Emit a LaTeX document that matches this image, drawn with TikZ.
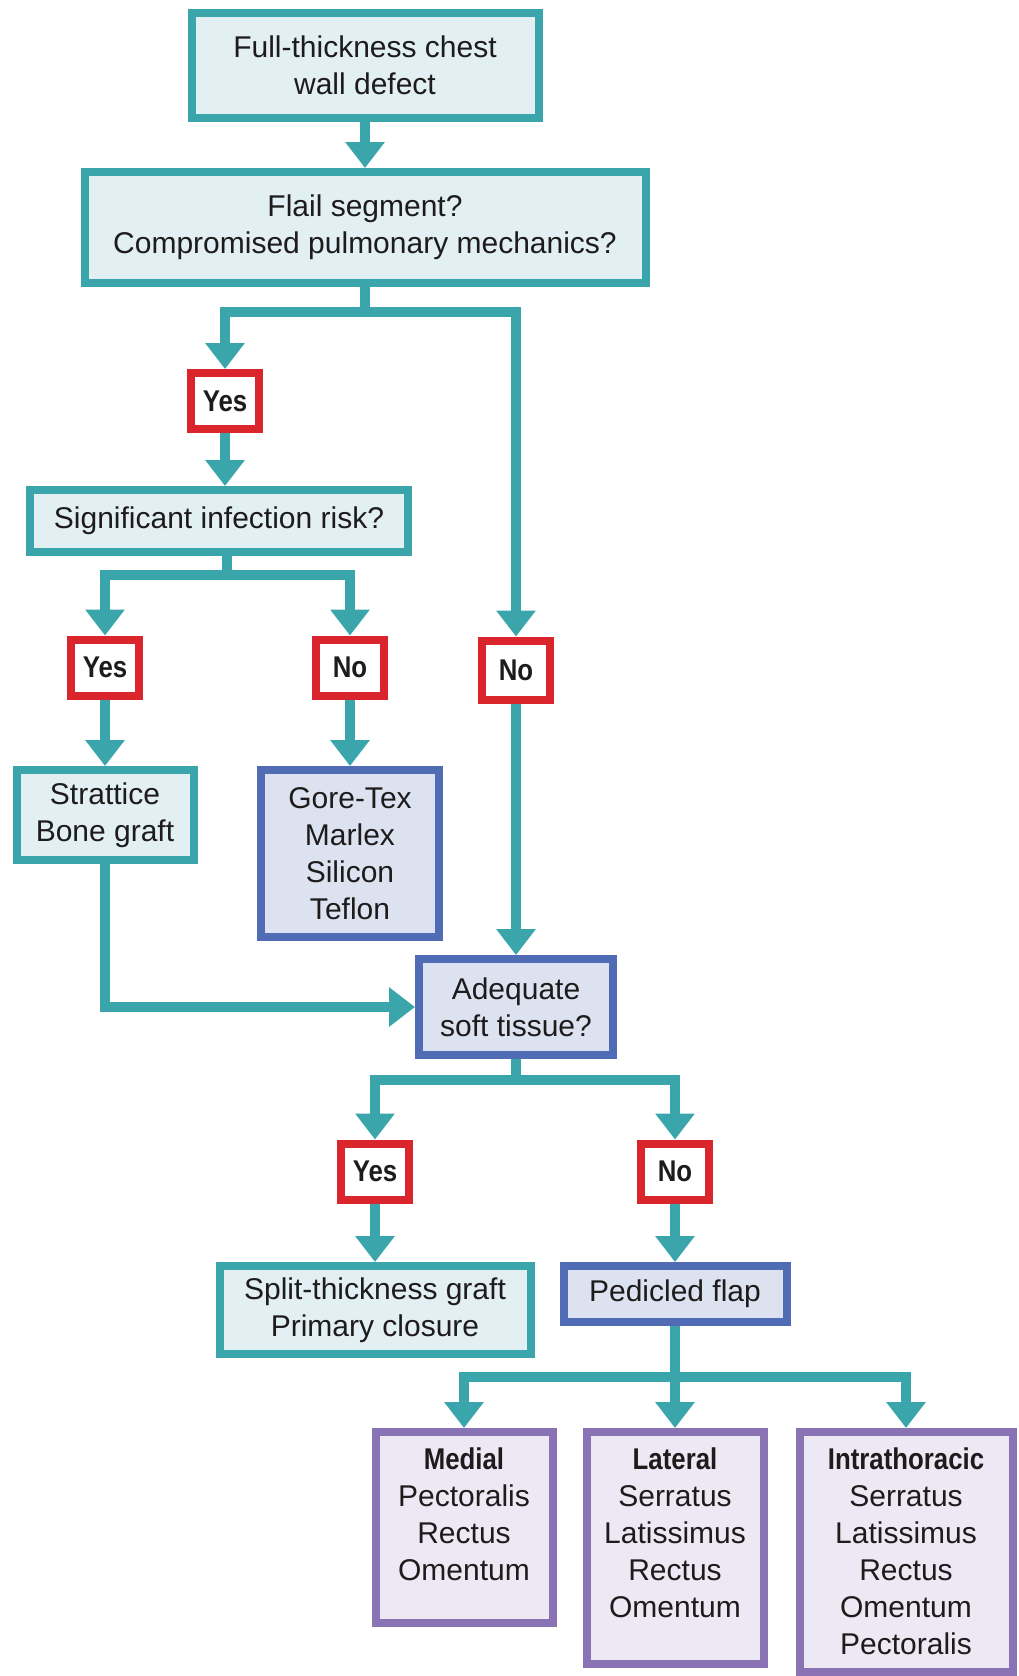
\documentclass[tikz,border=0pt]{standalone}
\usepackage{fontspec}
\setmainfont{Liberation Sans}
\newfontfamily\narrowsans[FakeStretch=0.86]{Liberation Sans}
\usetikzlibrary{arrows.meta,positioning}
\definecolor{tealline}{RGB}{58,166,171}
\definecolor{tealfill}{RGB}{226,239,243}
\definecolor{redline}{RGB}{218,37,44}
\definecolor{blueline}{RGB}{79,108,181}
\definecolor{bluefill}{RGB}{221,226,240}
\definecolor{purpline}{RGB}{137,115,181}
\definecolor{purpfill}{RGB}{236,233,245}
\definecolor{inkgray}{RGB}{30,27,28}

% flap lists are set from the top of their box
\newcommand{\fliplist}[3]{\parbox[c][#1][t]{#2}{\centering\vspace{6pt}#3}}

\begin{document}
\begin{tikzpicture}[x=0.5pt,y=-0.5pt,
	every node/.style={font=\fontsize{15}{18.5}\selectfont,text=inkgray,align=center,inner sep=2pt},
	tbox/.style={draw=tealline,fill=tealfill,line width=4pt},
	bbox/.style={draw=blueline,fill=bluefill,line width=4pt},
	pbox/.style={draw=purpline,fill=purpfill,line width=4pt},
	ans/.style={draw=redline,fill=white,line width=4pt,minimum width=34pt,minimum height=28pt,
		font=\narrowsans\bfseries\fontsize{15}{18.5}\selectfont},
	link/.style={draw=tealline,line width=5pt,line join=miter},
	arr/.style={link,-{Triangle[width=19pt,length=13pt]}}]
	\useasboundingbox[fill=white] (0,0) rectangle (1018,1676);

	\node[tbox,minimum width=173.5pt,minimum height=52.5pt] (defect) at (365,65.5) {Full-thickness chest\\wall defect};
	\node[tbox,minimum width=280.5pt,minimum height=55.5pt] (flail) at (365,227.5) {Flail segment?\\Compromised pulmonary mechanics?};
	\node[ans] (yesA) at (225,401) {Yes};
	\node[tbox,minimum width=189pt,minimum height=31pt] (infect) at (219,521) {Significant infection risk?};
	\node[ans] (yesB) at (105,667.5) {Yes};
	\node[ans] (noB) at (350,667.5) {No};
	\node[ans,minimum height=29.5pt] (noA) at (516,670) {No};
	\node[tbox,minimum width=88.5pt,minimum height=45pt] (graft) at (105,815) {Strattice\\Bone graft};
	\node[bbox,minimum width=89pt,minimum height=83.5pt] (mesh) at (350,853.5) {Gore-Tex\\Marlex\\Silicon\\Teflon};
	\node[bbox,minimum width=97pt,minimum height=48pt] (tissue) at (516,1007) {Adequate\\soft tissue?};
	\node[ans] (yesC) at (375,1171.5) {Yes};
	\node[ans] (noC) at (675,1171.5) {No};
	\node[tbox,minimum width=155.5pt,minimum height=44pt] (closure) at (375,1310) {Split-thickness graft\\Primary closure};
	\node[bbox,minimum width=111.5pt,minimum height=28pt] (flap) at (675,1294) {Pedicled flap};
	\node[pbox] (medial) at (464,1527.5) {\fliplist{91.5pt}{84.5pt}{{\narrowsans\bfseries Medial}\\Pectoralis\\Rectus\\Omentum}};
	\node[pbox] (lateral) at (675,1548) {\fliplist{112pt}{84.5pt}{{\narrowsans\bfseries Lateral}\\Serratus\\Latissimus\\Rectus\\Omentum}};
	\node[pbox] (intra) at (906,1552) {\fliplist{116pt}{102.5pt}{{\narrowsans\bfseries Intrathoracic}\\Serratus\\Latissimus\\Rectus\\Omentum\\Pectoralis}};

	\coordinate (j1) at (365,312);
	\coordinate (j2) at (227,575);
	\coordinate (j3) at (516,1080);
	\coordinate (j4) at (675,1377);

	\draw[arr] (defect) -- (flail);
	\draw[link] (flail) -- (j1);
	\draw[arr] (j1) -| (yesA);
	\draw[arr] (j1) -| (noA);
	\draw[arr] (yesA.south) -- (yesA.south |- infect.north);
	\draw[link] (infect.south -| j2) -- (j2);
	\draw[arr] (j2) -| (yesB);
	\draw[arr] (j2) -| (noB);
	\draw[arr] (yesB) -- (graft);
	\draw[arr] (noB) -- (mesh);
	\draw[arr] (noA) -- (tissue);
	\draw[arr] (graft) |- (tissue);
	\draw[link] (tissue) -- (j3);
	\draw[arr] (j3) -| (yesC);
	\draw[arr] (j3) -| (noC);
	\draw[arr] (yesC) -- (closure);
	\draw[arr] (noC) -- (flap);
	\draw[link] (flap) -- (j4);
	\draw[arr] (j4) -| (medial);
	\draw[arr] (j4) -- (lateral);
	\draw[arr] (j4) -| (intra);
\end{tikzpicture}
\end{document}
